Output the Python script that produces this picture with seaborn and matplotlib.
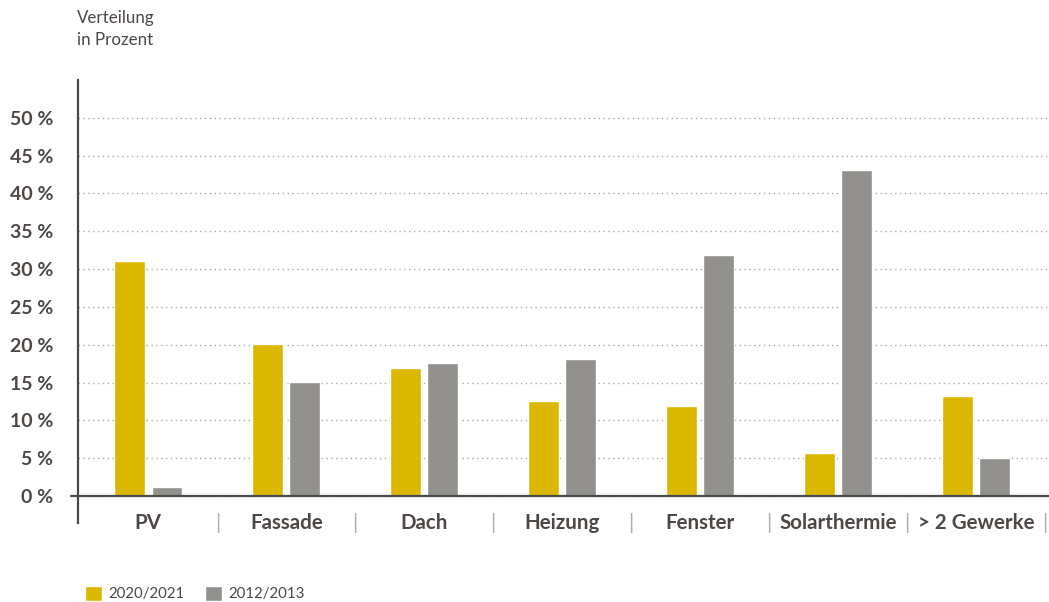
import pandas as pd
import matplotlib.pyplot as plt
import matplotlib.transforms as mtransforms
from matplotlib.patches import Patch
import seaborn as sns

categories = ['PV', 'Fassade', 'Dach', 'Heizung', 'Fenster', 'Solarthermie', '> 2 Gewerke']
share_2020 = [31.1, 20.1, 16.9, 12.6, 11.9, 5.7, 13.2]
share_2012 = [1.2, 15.1, 17.6, 18.1, 31.9, 43.1, 5.0]
periods = ['2020/2021', '2012/2013']
yticks = [0, 5, 10, 15, 20, 25, 30, 35, 40, 45, 50]

yellow = '#DAB700'
grey = '#93918E'
txt = '#4D4845'

df = pd.DataFrame({
    'Kategorie': categories * 2,
    'Anteil': share_2020 + share_2012,
    'Zeitraum': [periods[0]] * len(categories) + [periods[1]] * len(categories),
})

sns.set_style('white')
plt.rcParams['font.family'] = ['Lato', 'DejaVu Sans']

fig = plt.figure(figsize=(10.49, 6.02), dpi=100)
ax = fig.add_axes([78 / 1049, 79 / 602, 971 / 1049, 443 / 602])

sns.barplot(data=df, x='Kategorie', y='Anteil', hue='Zeitraum', order=categories,
            hue_order=periods, palette=[yellow, grey], width=0.54, gap=0.17,
            saturation=1, legend=False, ax=ax)

ax.set_xlim(-0.51, 6.53)
ax.set_ylim(-3.57, 55)
ax.set_yticks(yticks)
ax.set_yticklabels([f'{v} %' for v in yticks], fontsize=14, fontweight='bold', color=txt)
ax.set_xticks(range(len(categories)))
ax.set_xticklabels(categories, fontsize=14.8, fontweight='bold', color=txt)
ax.tick_params(axis='x', length=0, pad=-7.5)
ax.tick_params(axis='y', length=0, pad=18)
ax.set_xlabel('')
ax.set_ylabel('')

ax.yaxis.grid(True, linestyle=(0, (1, 2.5)), color='#aaaaaa', linewidth=1)
ax.set_axisbelow(True)
for s in ['top', 'right', 'bottom']:
    ax.spines[s].set_visible(False)
ax.spines['left'].set_color('#4a4a4a')
ax.spines['left'].set_linewidth(1.6)
ax.axhline(0, xmin=-0.007, xmax=1, color='#4a4a4a', linewidth=1.6, clip_on=False, zorder=5)

# separators between category labels
trans = mtransforms.blended_transform_factory(ax.transData, ax.transAxes)
for i in range(len(categories)):
    ax.text(i + 0.5, 0.0, '|', transform=trans, ha='center', va='center',
            fontsize=15, color='#b0aeab')

fig.text(77 / 1049, 1 - 29 / 602, 'Verteilung\nin Prozent', ha='left', va='center',
         fontsize=12.2, color=txt, linespacing=1.45)

handles = [Patch(facecolor=yellow, label=periods[0]), Patch(facecolor=grey, label=periods[1])]
fig.legend(handles=handles, loc='lower left', bbox_to_anchor=(84 / 1049, 0.0), ncol=2,
           frameon=False, fontsize=10.8, handlelength=1.15, handleheight=1.15,
           handletextpad=0.45, columnspacing=1.3, labelcolor=txt,
           borderpad=0.05, borderaxespad=0)

fig.savefig('out.png', dpi=100)
